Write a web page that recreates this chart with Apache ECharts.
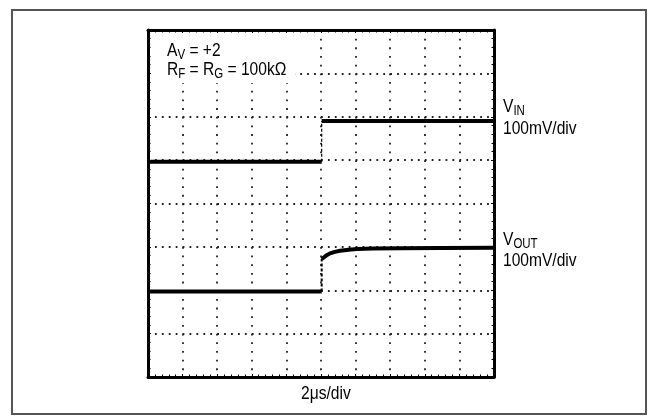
<!DOCTYPE html>
<html>
<head>
<meta charset="utf-8">
<script src="https://cdn.jsdelivr.net/npm/echarts@6/dist/echarts.min.js"></script>
<style>
html,body{margin:0;padding:0;background:#fff;}
#c{width:648px;height:416px;}
</style>
</head>
<body>
<div id="c"></div>
<script>
// Time in divisions (2 µs/div), amplitude in divisions (100 mV/div)
var vinFlatLowX = [0, 5.02];
var vinFlatLowY = [4.96, 4.96];
var vinEdgeX = [5.02, 5.02];
var vinEdgeY = [4.96, 5.9];
var vinFlatHighX = [5.02, 10];
var vinFlatHighY = [5.9, 5.9];

var voutLowX = [0, 5.02];
var voutLowY = [1.97, 1.97];
var voutEdgeX = [5.02, 5.02];
var voutEdgeY = [1.97, 2.72];
var voutSettleX = [5.02, 5.15, 5.26, 5.4, 5.55, 5.8, 6.04, 6.5, 7.28, 8.5, 10];
var voutSettleY = [2.72, 2.8, 2.85, 2.885, 2.91, 2.935, 2.95, 2.96, 2.97, 2.975, 2.98];

var xTicks = [0,1,2,3,4,5,6,7,8,9,10];
var yTicks = [0,1,2,3,4,5,6,7,8];

// Text labels: [text, isSubscript]
var labelAv = [['A',0],['V',1],[' = +2',0]];
var labelR = [['R',0],['F',1],[' = R',0],['G',1],[' = 100kΩ',0]];
var labelVin = [['V',0],['IN',1]];
var labelVout = [['V',0],['OUT',1]];
var labelScaleV = [['100mV/div',0]];
var labelScaleT = [['2μs/div',0]];

function pairs(xs, ys){ return xs.map(function(x,i){ return [x, ys[i]]; }); }

var FAM = "'Liberation Sans',Arial,sans-serif";
var SX = 0.82;
var MAIN = 19, SUB = 14;

var mctx = document.createElement('canvas').getContext('2d');
function tw(t, size){ mctx.font = size + 'px ' + FAM; return mctx.measureText(t).width * SX; }

// build graphic text elements from segments, given left x and main baseline y
function textRow(segs, x, base){
  var out = [];
  var cx = x;
  segs.forEach(function(s){
    var size = s[1] ? SUB : MAIN;
    var b = s[1] ? base + 3 : base;
    out.push({type:'text', x:cx, y:b - 0.35*size, scaleX:SX, silent:true, z:10,
      style:{text:s[0], fontFamily:FAM, fontSize:size, fill:'#000', verticalAlign:'middle', align:'left'}});
    cx += tw(s[0], size);
  });
  return out;
}

var chart = echarts.init(document.getElementById('c'), null, {renderer:'canvas'});

function xAx(pos){
  return {
    type:'value', min:xTicks[0], max:xTicks[xTicks.length-1], interval:1, position:pos,
    axisLine:{show:true, onZero:false, lineStyle:{color:'#000', width:3}},
    axisTick:{show:true, inside:true, length:3, lineStyle:{color:'#000', width:1}},
    minorTick:{show:true, splitNumber:5, length:2.5, lineStyle:{color:'#000', width:1}},
    axisLabel:{show:false},
    splitLine:{show:pos==='bottom', lineStyle:{color:'#222', width:1.8, type:[1.8,6.875]}}
  };
}
function yAx(pos){
  return {
    type:'value', min:yTicks[0], max:yTicks[yTicks.length-1], interval:1, position:pos,
    axisLine:{show:true, onZero:false, lineStyle:{color:'#000', width:3}},
    axisTick:{show:true, inside:true, length:3, lineStyle:{color:'#000', width:1}},
    minorTick:{show:true, splitNumber:5, length:2.5, lineStyle:{color:'#000', width:1}},
    axisLabel:{show:false},
    splitLine:{show:pos==='left', lineStyle:{color:'#222', width:1.8, type:[1.8,5.12]}}
  };
}

function thick(xs, ys){
  return {type:'line', data:pairs(xs,ys), symbol:'none', xAxisIndex:0, yAxisIndex:0,
    lineStyle:{color:'#000', width:4}, animation:false, z:5};
}
function thin(xs, ys, w){
  return {type:'line', data:pairs(xs,ys), symbol:'none', xAxisIndex:0, yAxisIndex:0,
    lineStyle:{color:'#000', width:w, type:[3,2]}, animation:false, z:5};
}

var graphics = [
  {type:'rect', x:12, y:10, shape:{width:634, height:404}, style:{fill:'none', stroke:'#555', lineWidth:2}, silent:true},
  {type:'rect', x:152, y:34, z:1, shape:{width:143, height:49}, style:{fill:'#fff'}, silent:true}
];
graphics = graphics
  .concat(textRow(labelAv, 167, 57.5))
  .concat(textRow(labelR, 167, 76.5))
  .concat(textRow(labelVin, 503, 113))
  .concat(textRow(labelScaleV, 503, 135))
  .concat(textRow(labelVout, 503, 246.5))
  .concat(textRow(labelScaleV, 503, 267))
  .concat(textRow(labelScaleT, 301, 400.5));

chart.setOption({
  animation:false,
  backgroundColor:'#fff',
  grid:{left:148, top:30, width:346, height:347},
  xAxis:[xAx('bottom'), xAx('top')],
  yAxis:[yAx('left'), yAx('right')],
  series:[
    thick(vinFlatLowX, vinFlatLowY),
    thin(vinEdgeX, vinEdgeY, 1.2),
    thick(vinFlatHighX, vinFlatHighY),
    thick(voutLowX, voutLowY),
    thin(voutEdgeX, voutEdgeY, 2),
    thick(voutSettleX, voutSettleY)
  ],
  graphic:graphics
});
</script>
</body>
</html>
